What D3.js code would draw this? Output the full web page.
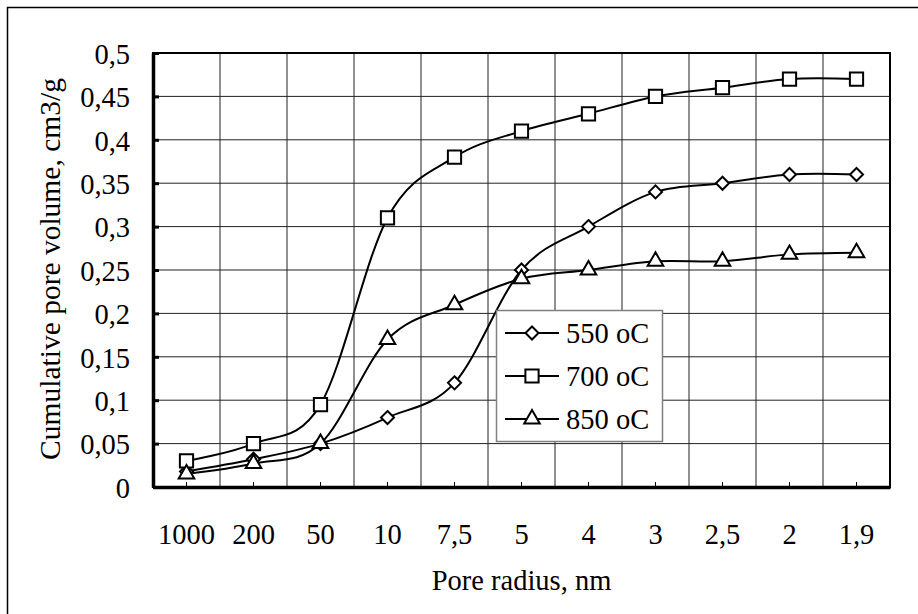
<!DOCTYPE html>
<html lang="en">

<head>
    <meta charset="UTF-8">
    <title>Cumulative pore volume</title>
    <style>
        body { margin: 0; background: #fff; }
        svg text { font-family: 'Liberation Serif', Tinos, 'Times New Roman', 'DejaVu Serif', serif; fill: #000; }
    </style>
</head>

<body>
    <div id="wrapper"></div>
    <script src="https://d3js.org/d3.v7.min.js"></script>
    <script>
        // 資料
        const categories = ['1000', '200', '50', '10', '7,5', '5', '4', '3', '2,5', '2', '1,9'];
        const s550 = [0.018, 0.032, 0.05, 0.08, 0.12, 0.25, 0.30, 0.34, 0.35, 0.36, 0.36];
        const s700 = [0.03, 0.05, 0.095, 0.31, 0.38, 0.41, 0.43, 0.45, 0.46, 0.47, 0.47];
        const s850 = [0.015, 0.027, 0.05, 0.17, 0.21, 0.24, 0.25, 0.26, 0.26, 0.268, 0.27];
        const yTicks = [0, 0.05, 0.1, 0.15, 0.2, 0.25, 0.3, 0.35, 0.4, 0.45, 0.5];
        const seriesNames = ['550 oC', '700 oC', '850 oC'];

        const FONT = "'Liberation Serif', Tinos, 'Times New Roman', 'DejaVu Serif', serif";
        const FS = 28.5;

        // 菱形 (正方形轉45度)
        const diamond = {
            draw(ctx, size) {
                const r = Math.sqrt(size / 2);
                ctx.moveTo(0, -r);
                ctx.lineTo(r, 0);
                ctx.lineTo(0, r);
                ctx.lineTo(-r, 0);
                ctx.closePath();
            }
        };

        const series = [
            { name: seriesNames[0], values: s550, symbol: diamond, size: 85 },
            { name: seriesNames[1], values: s700, symbol: d3.symbolSquare, size: 175 },
            { name: seriesNames[2], values: s850, symbol: d3.symbolTriangle, size: 105 }
        ];

        let width = 918,
            height = 614;
        let margin = { top: 53, right: 28, bottom: 127, left: 153 };

        const svg = d3.select('#wrapper').append('svg')
            .attr('width', width)
            .attr('height', height);

        // 外框
        svg.append('rect')
            .attr('x', 7.5).attr('y', 7.5)
            .attr('width', width + 20).attr('height', height + 20)
            .attr('fill', 'none').attr('stroke', '#000').attr('stroke-width', 1.5);

        const x = d3.scaleBand()
            .domain(categories)
            .range([margin.left, width - margin.right]);

        const y = d3.scaleLinear()
            .domain([0, 0.5])
            .range([height - margin.bottom, margin.top]);

        const fmt = d => String(d).replace('.', ',');

        // 格線
        const grid = svg.append('g').attr('class', 'grid');
        grid.selectAll('line.h')
            .data(yTicks)
            .join('line')
            .attr('class', 'h')
            .attr('x1', margin.left).attr('x2', width - margin.right)
            .attr('y1', d => y(d)).attr('y2', d => y(d))
            .attr('stroke', '#222').attr('stroke-width', 1);

        grid.selectAll('line.v')
            .data(categories.slice(1))
            .join('line')
            .attr('class', 'v')
            .attr('x1', d => x(d)).attr('x2', d => x(d))
            .attr('y1', margin.top).attr('y2', height - margin.bottom)
            .attr('stroke', '#222').attr('stroke-width', 1);

        // 圖框
        svg.append('rect')
            .attr('x', margin.left).attr('y', margin.top)
            .attr('width', width - margin.left - margin.right)
            .attr('height', height - margin.top - margin.bottom)
            .attr('fill', 'none').attr('stroke', '#000').attr('stroke-width', 2);

        // X軸
        const xAxis = d3.axisBottom(x).tickSizeInner(-5).tickSizeOuter(0).tickPadding(37);
        const gx = svg.append('g')
            .attr('transform', `translate(0,${height - margin.bottom})`)
            .call(xAxis);
        gx.attr('font-family', FONT).attr('font-size', FS);
        gx.select('.domain').attr('stroke-width', 3.5);
        gx.selectAll('.tick line').attr('stroke-width', 1);

        // Y軸
        const yAxis = d3.axisLeft(y).tickValues(yTicks).tickFormat(fmt)
            .tickSizeInner(-6).tickSizeOuter(0).tickPadding(23);
        const gy = svg.append('g')
            .attr('transform', `translate(${margin.left},0)`)
            .call(yAxis);
        gy.attr('font-family', FONT).attr('font-size', FS);
        gy.select('.domain').attr('stroke-width', 3.5);
        gy.selectAll('.tick line').attr('stroke-width', 3);
        gy.selectAll('.tick text').attr('dy', '0.36em');

        // 軸標題
        svg.append('text')
            .attr('x', (margin.left + width - margin.right) / 2)
            .attr('y', 590)
            .attr('text-anchor', 'middle')
            .attr('font-size', FS)
            .text('Pore radius, nm');

        svg.append('text')
            .attr('transform', `translate(60,269) rotate(-90)`)
            .attr('text-anchor', 'middle')
            .attr('font-size', 29.5)
            .text('Cumulative pore volume, cm3/g');

        // 折線
        const cx = (d, i) => x(categories[i]) + x.bandwidth() / 2;
        const line = d3.line()
            .x(cx)
            .y(d => y(d))
            .curve(d3.curveCardinal.tension(0));

        series.forEach(s => {
            svg.append('path')
                .datum(s.values)
                .attr('d', line)
                .attr('fill', 'none')
                .attr('stroke', '#000')
                .attr('stroke-width', 2);
        });

        series.forEach(s => {
            svg.append('g').selectAll('path')
                .data(s.values)
                .join('path')
                .attr('transform', (d, i) => `translate(${cx(d, i)},${y(d)})`)
                .attr('d', d3.symbol(s.symbol, s.size))
                .attr('fill', '#fff')
                .attr('stroke', '#000')
                .attr('stroke-width', 2);
        });

        // 圖例
        const legend = svg.append('g').attr('transform', 'translate(496,310)');
        legend.append('rect')
            .attr('x', 0.5).attr('y', 0.5)
            .attr('width', 166).attr('height', 131)
            .attr('fill', '#fff').attr('stroke', '#808080').attr('stroke-width', 1.5);

        series.forEach((s, i) => {
            const ly = 23 + i * 43;
            legend.append('line')
                .attr('x1', 9).attr('x2', 63)
                .attr('y1', ly).attr('y2', ly)
                .attr('stroke', '#000').attr('stroke-width', 2);
            legend.append('path')
                .attr('transform', `translate(36,${ly})`)
                .attr('d', d3.symbol(s.symbol, s.size)())
                .attr('fill', '#fff').attr('stroke', '#000').attr('stroke-width', 2);
            legend.append('text')
                .attr('x', 70).attr('y', ly)
                .attr('dy', '0.35em')
                .attr('font-size', FS)
                .text(s.name);
        });
    </script>
</body>

</html>
